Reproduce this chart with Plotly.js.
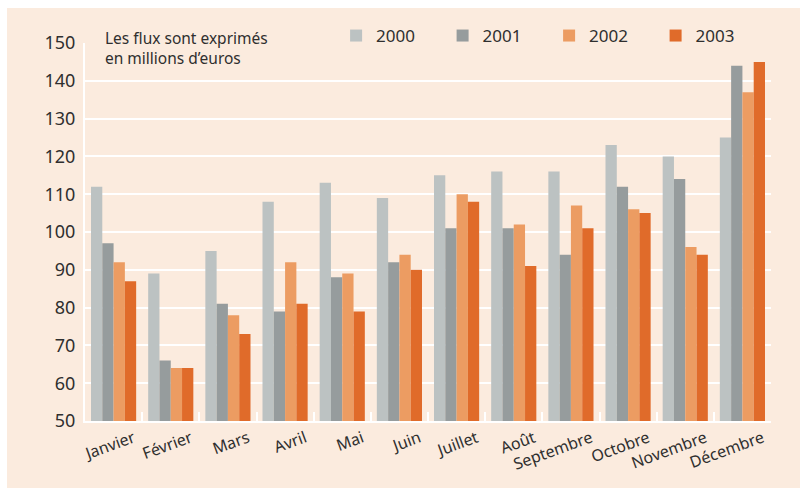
<!DOCTYPE html>
<html>
<head>
<meta charset="utf-8">
<script src="https://cdn.plot.ly/plotly-3.0.1.min.js"></script>
<style>
  html, body { margin: 0; padding: 0; background: #ffffff; }
  #chart { position: absolute; left: 7px; top: 8px; width: 793px; height: 480px; }
</style>
</head>
<body>
<div id="chart"></div>
<script>
const months = ["Janvier", "Février", "Mars", "Avril", "Mai", "Juin", "Juillet", "Août", "Septembre", "Octobre", "Novembre", "Décembre"];
const years = ["2000", "2001", "2002", "2003"];
const v2000 = [112, 89, 95, 108, 113, 109, 115, 116, 116, 123, 120, 125];
const v2001 = [97, 66, 81, 79, 88, 92, 101, 101, 94, 112, 114, 144];
const v2002 = [92, 64, 78, 92, 89, 94, 110, 102, 107, 106, 96, 137];
const v2003 = [87, 64, 73, 81, 79, 90, 108, 91, 101, 105, 94, 145];
const yTicks = [50, 60, 70, 80, 90, 100, 110, 120, 130, 140, 150];
const note = "Les flux sont exprimés<br>en millions d’euros";

const series = [v2000, v2001, v2002, v2003];
const colors = ["#bcc2c2", "#969c9d", "#ec9c62", "#e06b2a"];
const FONT = "Noto Sans, sans-serif";

const traces = series.map((vals, i) => ({
  type: "bar",
  name: years[i],
  x: months,
  y: vals,
  marker: { color: colors[i], line: { width: 0 } },
  hoverinfo: "x+y+name"
}));

const layout = {
  width: 793,
  height: 480,
  margin: { l: 78, r: 29, t: 35, b: 67, autoexpand: false },
  paper_bgcolor: "#fbebde",
  plot_bgcolor: "#fbebde",
  barmode: "group",
  bargap: 0.21,
  bargroupgap: 0,
  font: { family: FONT, color: "#2f2f2f", size: 15 },
  xaxis: {
    type: "category",
    tickson: "boundaries",
    ticks: "inside",
    ticklen: 9,
    tickwidth: 2,
    tickcolor: "#ffffff",
    showline: true,
    linecolor: "#ffffff",
    linewidth: 2,
    showgrid: false,
    tickangle: -20,
    ticklabelshift: 20,
    tickfont: { family: FONT, size: 16, color: "#2f2f2f" }
  },
  yaxis: {
    range: [50, 150],
    tickvals: yTicks,
    showline: true,
    linecolor: "#ffffff",
    linewidth: 2,
    showgrid: true,
    gridcolor: "#ffffff",
    gridwidth: 2,
    zeroline: false,
    ticks: "",
    ticklabelstandoff: 4,
    tickfont: { family: FONT, size: 18, color: "#2f2f2f" }
  },
  showlegend: true,
  legend: {
    orientation: "h",
    xref: "container",
    yref: "container",
    x: 0.415,
    xanchor: "left",
    y: 0.9417,
    yanchor: "middle",
    entrywidth: 61.5,
    bgcolor: "rgba(0,0,0,0)",
    font: { family: FONT, size: 17, color: "#2f2f2f" },
    traceorder: "normal"
  },
  annotations: [{
    text: note,
    xref: "paper",
    yref: "paper",
    x: 0.026,
    y: 1.048,
    xanchor: "left",
    yanchor: "top",
    align: "left",
    showarrow: false,
    font: { family: FONT, size: 15.5, color: "#2f2f2f" }
  }]
};

Plotly.newPlot("chart", traces, layout, { displayModeBar: false, staticPlot: true });
</script>
</body>
</html>
